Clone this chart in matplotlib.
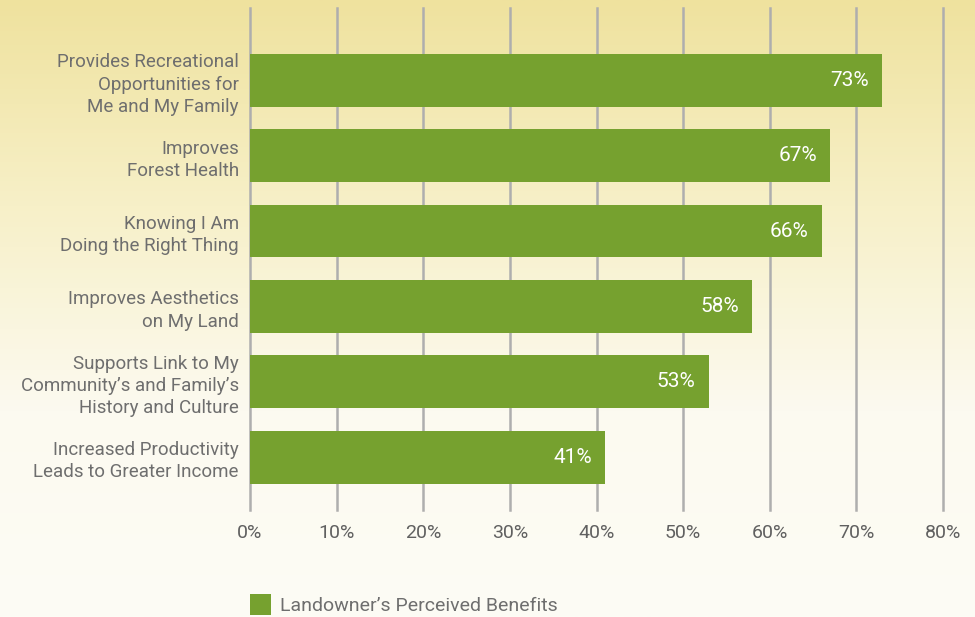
import matplotlib
matplotlib.use("Agg")
import matplotlib.pyplot as plt
import numpy as np
from matplotlib.colors import LinearSegmentedColormap

categories = [
    "Provides Recreational\nOpportunities for\nMe and My Family",
    "Improves\nForest Health",
    "Knowing I Am\nDoing the Right Thing",
    "Improves Aesthetics\non My Land",
    "Supports Link to My\nCommunity\u2019s and Family\u2019s\nHistory and Culture",
    "Increased Productivity\nLeads to Greater Income",
]
values = [73, 67, 66, 58, 53, 41]
xticks = [0, 10, 20, 30, 40, 50, 60, 70, 80]
xticklabels = [f"{t}%" for t in xticks]
series_name = "Landowner\u2019s Perceived Benefits"

W, H = 975, 617
fig = plt.figure(figsize=(W / 100, H / 100), dpi=100)

# background gradient
bg = fig.add_axes([0, 0, 1, 1], zorder=-10)
cmap = LinearSegmentedColormap.from_list("bg", ["#EFE29E", "#F7F0C8", "#FCFAF0", "#FDFCF5"])
grad = np.linspace(0, 1, 256).reshape(-1, 1)
bg.imshow(grad, aspect="auto", cmap=cmap, extent=[0, 1, 0, 1], origin="upper")
bg.set_axis_off()

left, right = 250 / W, 943 / W
top, bottom = 8 / H, 510 / H
ax = fig.add_axes([left, 1 - bottom, right - left, bottom - top])
ax.patch.set_alpha(0)

bar_color = "#76A12F"
ypos = np.arange(len(categories))
bars = ax.barh(ypos, values, height=0.70, color=bar_color, zorder=3, label=series_name)
ax.set_xlim(0, 80)
ax.set_ylim(5.70, -0.96)

for x in xticks:
    ax.axvline(x, color="#AEAEAE", lw=1.8, zorder=1, clip_on=False)

font = "Roboto"
txtcol = "#6E6E6E"
for y, v in zip(ypos, values):
    ax.text(v - 1.55, y, f"{v}%", ha="right", va="center", color="white",
            fontsize=15, family=font, zorder=4)

ax.set_yticks(ypos)
ax.set_yticklabels(categories, fontsize=13.5, family=font,
                   color=txtcol, linespacing=1.3, ha="right")
ax.set_xticks(xticks)
ax.set_xticklabels(xticklabels, fontsize=14, family=font, color="#606060")
ax.tick_params(axis="y", length=0, pad=8)
ax.tick_params(axis="x", length=0, pad=10)
for s in ax.spines.values():
    s.set_visible(False)

leg = fig.legend(handles=[bars], labels=[series_name], loc="lower left",
                 bbox_to_anchor=(232 / W, -0.025), frameon=False,
                 prop={"family": font, "size": 14},
                 handlelength=1.1, handleheight=1.3, handletextpad=0.45)
for t in leg.get_texts():
    t.set_color(txtcol)

fig.savefig("out.png", dpi=100)
